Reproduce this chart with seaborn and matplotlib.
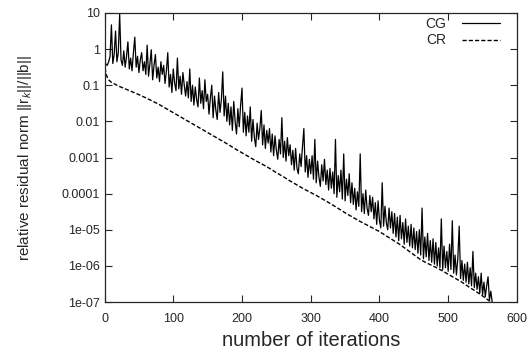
import numpy as np
import pandas as pd
import matplotlib
matplotlib.use('Agg')
import matplotlib.pyplot as plt
import seaborn as sns

# CG 殘差 (log10)，每 2 次迭代讀一點
cg_iter = list(range(0, 570, 2))
cg_log10 = [
    -0.30, -0.42, -0.45, -0.35, -0.20, 0.67, -0.40, -0.15, 0.50, -0.35, -0.10, 0.97, -0.30, -0.45, -0.05,
    -0.50, -0.20, 0.20, -0.55, -0.25, -0.60, -0.10, 0.33, -0.50, -0.20, -0.65, -0.30, -0.10, -0.60, -0.35,
    -0.70, 0.11, -0.75, -0.40, -0.02, -0.85, -0.45, -0.15, -0.80, -0.50, -0.90, -0.35, -0.70, -0.45, -0.95,
    -0.60, -0.10, -1.05, -0.70, -1.20, -0.55, -0.95, -1.15, -0.25, -1.10, -0.75, -1.25, -0.65, -1.00, -1.30,
    -0.90, -1.35, -0.55, -1.45, -1.00, -1.55, -1.05, -1.40, -1.60, -0.80, -1.50, -1.15, -1.65, -0.85, -1.45,
    -1.25, -1.80, -1.35, -1.00, -1.90, -1.30, -1.70, -1.95, -1.20, -1.75, -1.40, -0.63, -1.85, -1.30, -2.00,
    -1.50, -2.10, -1.60, -2.25, -1.45, -2.00, -2.35, -1.65, -2.15, -1.55, -1.08, -2.30, -1.75, -2.40, -1.85,
    -2.30, -1.60, -2.55, -1.95, -2.45, -2.70, -2.05, -2.50, -2.20, -1.70, -2.65, -2.10, -2.75, -2.25, -2.60,
    -2.20, -2.85, -2.35, -2.95, -2.40, -2.80, -3.05, -2.50, -2.90, -1.90, -3.00, -2.55, -3.10, -2.45, -2.95,
    -2.65, -3.20, -2.80, -3.35, -2.75, -3.30, -3.45, -2.90, -3.25, -2.70, -2.20, -3.40, -2.95, -3.55, -3.05,
    -3.45, -2.95, -3.60, -2.50, -3.70, -3.10, -3.55, -3.80, -3.20, -3.65, -3.05, -3.75, -3.35, -3.90, -3.30,
    -3.85, -3.40, -4.00, -2.50, -4.10, -3.50, -3.95, -3.35, -4.15, -2.90, -4.20, -3.60, -4.05, -3.45, -4.25,
    -3.70, -4.30, -3.85, -4.45, -3.95, -4.35, -2.90, -4.50, -4.00, -4.55, -3.90, -4.40, -4.60, -4.05, -4.50,
    -4.10, -4.70, -4.25, -4.85, -4.20, -4.75, -4.95, -3.70, -4.90, -4.35, -4.80, -5.00, -4.40, -4.95, -4.50,
    -5.10, -4.55, -5.20, -4.65, -5.30, -4.60, -5.25, -4.80, -5.40, -4.70, -5.35, -4.90, -5.45, -4.85, -5.50,
    -4.95, -5.55, -5.05, -5.65, -5.00, -5.70, -4.40, -5.80, -5.20, -5.75, -5.10, -5.85, -5.30, -5.90, -5.25,
    -5.95, -5.35, -6.00, -5.50, -6.05, -4.70, -6.10, -5.45, -6.05, -5.60, -6.15, -5.40, -6.10, -4.75, -6.20,
    -5.70, -6.25, -5.80, -4.90, -6.35, -5.85, -6.40, -5.95, -6.45, -5.90, -6.50, -6.05, -6.55, -5.60, -6.60,
    -6.20, -6.65, -6.30, -6.75, -6.20, -6.80, -6.45, -6.85, -6.55, -6.30, -6.95, -6.70, -7.00, -7.05, -7.10,
]

# CR 殘差 (log10)
cr_iter = [0, 1, 2, 4, 6] + list(range(10, 570, 10)) + [566]
cr_log10 = [
    -0.35, -0.55, -0.68, -0.78, -0.85,
    -0.92, -1.02, -1.10, -1.18, -1.26, -1.35, -1.44, -1.54, -1.65, -1.76,
    -1.87, -1.98, -2.09, -2.20, -2.31, -2.42, -2.53, -2.64, -2.76, -2.87,
    -2.98, -3.09, -3.19, -3.30, -3.42, -3.53, -3.65, -3.76, -3.87, -3.97,
    -4.07, -4.18, -4.29, -4.41, -4.53, -4.64, -4.75, -4.85, -4.95, -5.05,
    -5.17, -5.29, -5.41, -5.55, -5.69, -5.83, -5.93, -6.02, -6.12, -6.23,
    -6.34, -6.45, -6.58, -6.70, -6.83, -6.97,
    -7.06,
]

y_ticks = [1e-7, 1e-6, 1e-5, 1e-4, 1e-3, 1e-2, 1e-1, 1, 10]
y_ticklabels = ['1e-07', '1e-06', '1e-05', '0.0001', '0.001', '0.01', '0.1', '1', '10']
x_ticks = [0, 100, 200, 300, 400, 500, 600]

cg = pd.DataFrame({'iter': cg_iter, 'res': 10 ** np.array(cg_log10), 'method': 'CG'})
cr = pd.DataFrame({'iter': cr_iter, 'res': 10 ** np.array(cr_log10), 'method': 'CR'})

sns.set_style('ticks')
plt.rcParams['font.family'] = ['Liberation Sans', 'DejaVu Sans']
plt.rcParams['mathtext.fontset'] = 'custom'
plt.rcParams['mathtext.rm'] = 'Liberation Sans'
plt.rcParams['mathtext.it'] = 'Liberation Sans:italic'

fig = plt.figure(figsize=(5.28, 3.5), dpi=100)
ax = fig.add_axes([0.198, 0.137, 0.781, 0.826])

sns.lineplot(data=cg, x='iter', y='res', color='black', linewidth=0.9, label='CG', ax=ax)
sns.lineplot(data=cr, x='iter', y='res', color='black', linewidth=1.0, label='CR', ax=ax)
ax.lines[1].set_dashes([3, 1.5])

ax.set_yscale('log')
ax.set_xlim(0, 600)
ax.set_ylim(1e-7, 10)
ax.set_yticks(y_ticks)
ax.set_yticklabels(y_ticklabels)
ax.yaxis.set_minor_locator(matplotlib.ticker.NullLocator())
ax.set_xticks(x_ticks)
ax.tick_params(direction='in', length=5, width=0.8, top=True, right=True, labelsize=9)
ax.tick_params(axis='x', pad=8)
for s in ax.spines.values():
    s.set_linewidth(0.9)

ax.set_xlabel('number of iterations', fontsize=14.5, labelpad=4)
ax.set_ylabel(r'relative residual norm ||r$_k$||/||b||', fontsize=11, labelpad=20)

leg = ax.legend(loc='upper right', bbox_to_anchor=(0.96, 0.985), frameon=False, markerfirst=False,
                fontsize=10, handlelength=2.8, labelspacing=0.15, borderaxespad=0, borderpad=0,
                handletextpad=1.1)
leg.get_lines()[1].set_dashes([3, 1.5])

fig.savefig('out.png', dpi=100)
